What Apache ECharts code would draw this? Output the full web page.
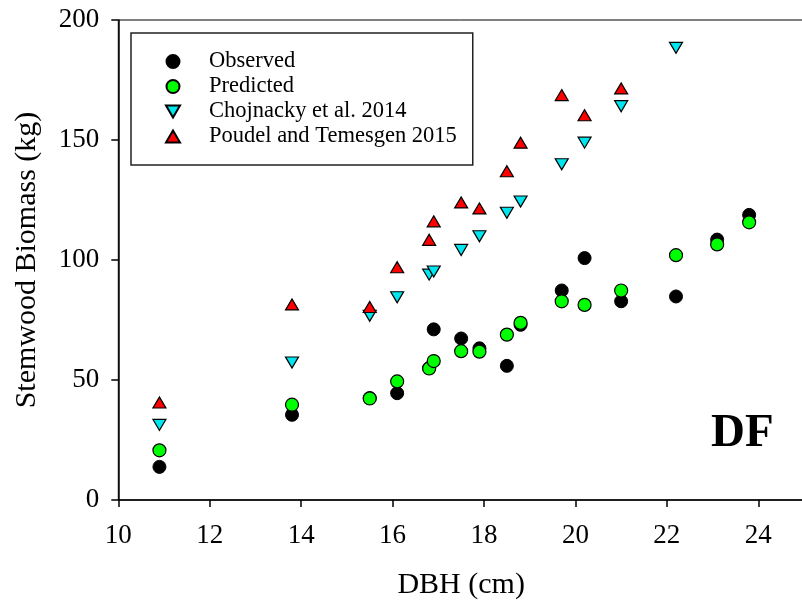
<!DOCTYPE html>
<html>
<head>
<meta charset="utf-8">
<script src="https://cdn.jsdelivr.net/npm/echarts@6/dist/echarts.min.js"></script>
<style>
html,body{margin:0;padding:0;background:#fff;}
#chart{width:802px;height:602px;}
</style>
</head>
<body>
<div id="chart"></div>
<script>
const dbh = [10.9, 13.8, 15.5, 16.1, 16.8, 16.9, 17.5, 17.9, 18.5, 18.8, 19.7, 20.2, 21.0, 22.2, 23.1, 23.8];
const observed = [13.8, 35.5, 42.5, 44.5, 55, 71.1, 67.3, 63.2, 55.9, 73, 87.3, 100.8, 82.8, 84.8, 108.5, 118.8];
const predicted = [20.7, 39.7, 42.3, 49.4, 54.8, 57.9, 62, 61.8, 68.9, 73.8, 82.8, 81.3, 87.3, 102, 106.5, 115.7];
const chojnacky = [31.3, 57.3, 76.8, 84.5, 93.9, 95.2, 104.2, 109.9, 119.7, 124.4, 139.9, 148.9, 164.1, 188.4, null, null];
const poudel = [40.6, 81.5, 80.4, 97, 108.4, 116.1, 124, 121.5, 137, 148.9, 168.7, 160.3, 171.5, null, null, null];
const seriesNames = ['Observed', 'Predicted', 'Chojnacky et al. 2014', 'Poudel and Temesgen 2015'];
const xTicks = [10, 12, 14, 16, 18, 20, 22, 24];
const yTicks = [0, 50, 100, 150, 200];

const FONT = "'Liberation Serif', 'Times New Roman', serif";
function pairs(vals) {
  const out = [];
  vals.forEach((v, i) => { if (v !== null) out.push([dbh[i], v]); });
  return out;
}
const DOWN_TRI = 'path://M0,0 L20,0 L10,17 Z';
const UP_TRI = 'path://M10,0 L20,17 L0,17 Z';

const chart = echarts.init(document.getElementById('chart'), null, {renderer: 'canvas'});
const axisCommon = {
  axisLine: {show: true, lineStyle: {color: '#000', width: 1.5}},
  axisTick: {show: true, inside: false, length: 7, lineStyle: {color: '#000', width: 1.5}},
  splitLine: {show: false},
  axisLabel: {color: '#000', fontFamily: FONT, fontSize: 27},
  nameTextStyle: {color: '#000', fontFamily: FONT, fontSize: 30}
};
chart.setOption({
  animation: false,
  backgroundColor: '#fff',
  grid: {left: 118.3, top: 20, width: 685.7, height: 480, show: true, borderColor: '#000', borderWidth: 1,
         backgroundColor: 'transparent', outerBoundsMode: 'none', containLabel: false},
  xAxis: Object.assign({}, axisCommon, {
    type: 'value', min: xTicks[0], max: 25, interval: 2,
    name: 'DBH (cm)', nameLocation: 'middle', nameGap: 70,
    axisLabel: Object.assign({}, axisCommon.axisLabel, {showMaxLabel: false, margin: 22})
  }),
  yAxis: Object.assign({}, axisCommon, {
    type: 'value', min: yTicks[0], max: yTicks[yTicks.length - 1], interval: 50,
    name: 'Stemwood Biomass (kg)', nameLocation: 'middle', nameGap: 76,
    axisLabel: Object.assign({}, axisCommon.axisLabel, {margin: 19})
  }),
  legend: {
    orient: 'vertical', left: 131, top: 33,
    padding: [16, 16, 16, 34],
    itemGap: 0, itemWidth: 14, itemHeight: 13,
    borderColor: '#222', borderWidth: 1.5,
    backgroundColor: '#fff',
    data: seriesNames,
    textStyle: {color: '#000', fontFamily: FONT, fontSize: 22.5, lineHeight: 25, padding: [0, 0, 0, 24]}
  },
  graphic: [{
    type: 'text', left: 711, top: 410,
    style: {text: 'DF', font: "bold 47px 'Liberation Serif', 'Times New Roman', serif", fill: '#000'}
  }],
  series: [
    {name: seriesNames[0], type: 'scatter', data: pairs(observed), symbol: 'circle', symbolSize: 13,
     itemStyle: {color: '#000', borderColor: '#000', borderWidth: 1, opacity: 1}, z: 2},
    {name: seriesNames[1], type: 'scatter', data: pairs(predicted), symbol: 'circle', symbolSize: 13,
     itemStyle: {color: '#00ff00', borderColor: '#000', borderWidth: 1.2, opacity: 1}, z: 3},
    {name: seriesNames[2], type: 'scatter', data: pairs(chojnacky), symbol: DOWN_TRI, symbolSize: [13, 11],
     itemStyle: {color: '#00e5ee', borderColor: '#000', borderWidth: 1.2, opacity: 1}, z: 4},
    {name: seriesNames[3], type: 'scatter', data: pairs(poudel), symbol: UP_TRI, symbolSize: [13, 11],
     itemStyle: {color: '#ff0000', borderColor: '#000', borderWidth: 1.2, opacity: 1}, z: 5}
  ]
});
</script>
</body>
</html>
